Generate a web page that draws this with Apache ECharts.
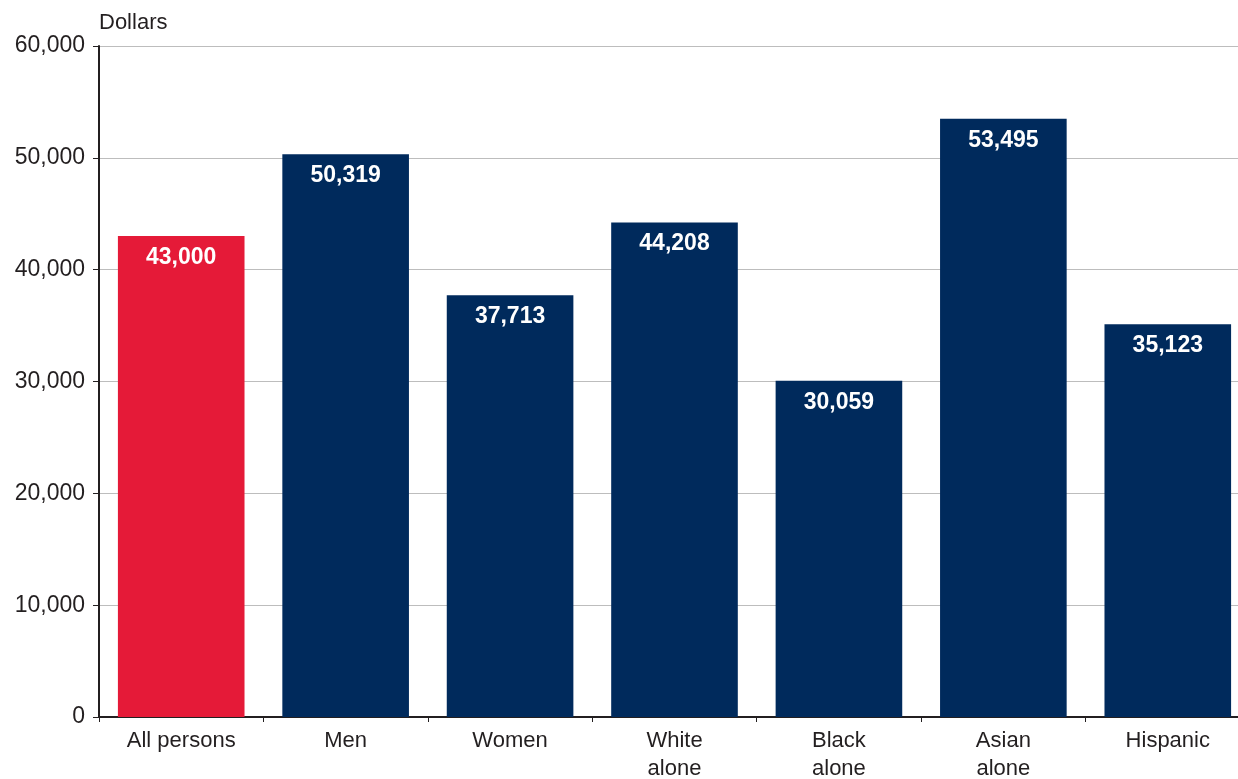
<!DOCTYPE html>
<html><head><meta charset="utf-8">
<script src="https://cdn.jsdelivr.net/npm/echarts@6/dist/echarts.min.js"></script>
<style>html,body{margin:0;padding:0;background:#fff}#c{width:1238px;height:779px}</style>
</head><body><div id="c"></div>
<script>
var categories = ['All persons', 'Men', 'Women', 'White\nalone', 'Black\nalone', 'Asian\nalone', 'Hispanic'];
var values = [43000, 50319, 37713, 44208, 30059, 53495, 35123];
var barColors = ['#e51a38', '#002a5c', '#002a5c', '#002a5c', '#002a5c', '#002a5c', '#002a5c'];
var yTicks = { min: 0, max: 60000, interval: 10000 };

var chart = echarts.init(document.getElementById('c'));
var font = 'Liberation Sans, Arial, sans-serif';
chart.setOption({
  animation: false,
  grid: { left: 99, right: -12, top: 46, bottom: 62, containLabel: false, outerBoundsMode: 'none' },
  xAxis: {
    type: 'category', data: categories,
    axisLine: { lineStyle: { color: '#231f20', width: 2 } },
    axisTick: { show: true, length: 5, lineStyle: { color: '#231f20', width: 1 } },
    axisLabel: { color: '#231f20', fontSize: 22, fontFamily: font, margin: 10, lineHeight: 28 }
  },
  yAxis: {
    type: 'value', min: yTicks.min, max: yTicks.max, interval: yTicks.interval,
    name: 'Dollars', nameGap: 12, nameLocation: 'end',
    nameTextStyle: { color: '#231f20', fontSize: 22, fontFamily: font, align: 'left', padding: [0, 0, 0, 0] },
    axisLine: { show: true, lineStyle: { color: '#231f20', width: 2 } },
    axisTick: { show: true, length: 6, lineStyle: { color: '#231f20', width: 1 } },
    splitLine: { lineStyle: { color: '#bdbdbd', width: 1 } },
    axisLabel: { color: '#231f20', fontSize: 23, fontFamily: font, margin: 14,
      formatter: function (v) { return v.toLocaleString('en-US'); } }
  },
  series: [{
    type: 'bar', barCategoryGap: '23%',
    data: values.map(function (v, i) { return { value: v, itemStyle: { color: barColors[i] } }; }),
    label: { show: true, position: 'insideTop', distance: 10, color: '#fff', fontWeight: 'bold',
      fontSize: 23, fontFamily: font,
      formatter: function (p) { return p.value.toLocaleString('en-US'); } }
  }]
});
</script></body></html>
